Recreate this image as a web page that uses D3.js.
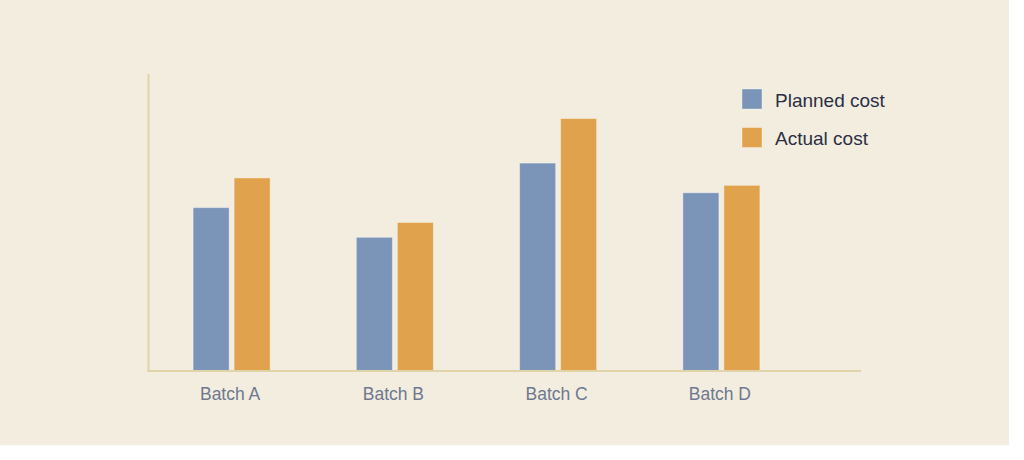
<!DOCTYPE html>
<html>
<head>
<meta charset="utf-8">
<script src="https://cdn.jsdelivr.net/npm/d3@7"></script>
<style>
  html, body { margin: 0; padding: 0; background: #ffffff; }
  svg { display: block; }
  text { font-family: "Liberation Sans", Arial, sans-serif; }
</style>
</head>
<body>
<svg id="chart" width="1024" height="460"></svg>
<script>
const categories = ["Batch A", "Batch B", "Batch C", "Batch D"];
const seriesNames = ["Planned cost", "Actual cost"];
const plannedCost = [55, 45, 70, 60];
const actualCost = [65, 50, 85, 62.5];
const seriesColors = ["#7b95b8", "#e0a24c"];

const svg = d3.select("#chart");
svg.append("rect").attr("x", 0).attr("y", 0).attr("width", 1009).attr("height", 445).attr("fill", "#f3eddf");

const x0 = d3.scaleBand().domain(categories).range([150, 803]).padding(0);
const groupW = 77;
const x1 = d3.scaleBand().domain(seriesNames).range([0, groupW]).paddingInner(5 / 41).paddingOuter(0);
const y = d3.scaleLinear().domain([0, 100]).range([371, 74]);

const data = categories.map((c, i) => ({ cat: c, vals: [plannedCost[i], actualCost[i]] }));

const groups = svg.append("g").selectAll("g").data(data).join("g")
  .attr("transform", d => `translate(${x0(d.cat) + (x0.bandwidth() - groupW) / 2},0)`);

groups.selectAll("rect").data(d => d.vals.map((v, j) => ({ s: seriesNames[j], v, j })))
  .join("rect")
  .attr("x", d => x1(d.s))
  .attr("y", d => y(d.v))
  .attr("width", x1.bandwidth())
  .attr("height", d => y(0) - y(d.v))
  .attr("fill", d => seriesColors[d.j])
  .attr("stroke", "rgba(255,255,255,0.35)")
  .attr("stroke-width", 1);

// axes lines
svg.append("line").attr("x1", 148.5).attr("x2", 148.5).attr("y1", 74).attr("y2", 371)
  .attr("stroke", "#e0d3a8").attr("stroke-width", 2);
svg.append("line").attr("x1", 147.5).attr("x2", 861).attr("y1", 371).attr("y2", 371)
  .attr("stroke", "#e0d3a8").attr("stroke-width", 2);

// x labels via axis
const xAxis = d3.axisBottom(x0).tickSize(0).tickPadding(0);
const gx = svg.append("g").attr("transform", "translate(-1.5,371)").call(xAxis);
gx.select(".domain").remove();
gx.selectAll("text")
  .attr("dy", null).attr("y", 29)
  .attr("fill", "#6e7890")
  .style("font-size", "17.5px")
  .style("font-family", "'Liberation Sans', Arial, sans-serif");

// legend
const legend = svg.append("g").selectAll("g").data(seriesNames).join("g")
  .attr("transform", (d, i) => `translate(742,${89 + i * 38.5})`);
legend.append("rect").attr("width", 20).attr("height", 20)
  .attr("fill", (d, i) => seriesColors[i])
  .attr("stroke", "rgba(255,255,255,0.35)").attr("stroke-width", 1);
legend.append("text").attr("x", 33).attr("y", 17.5)
  .attr("fill", "#2a2f45").style("font-size", "19px").text(d => d);
</script>
</body>
</html>
